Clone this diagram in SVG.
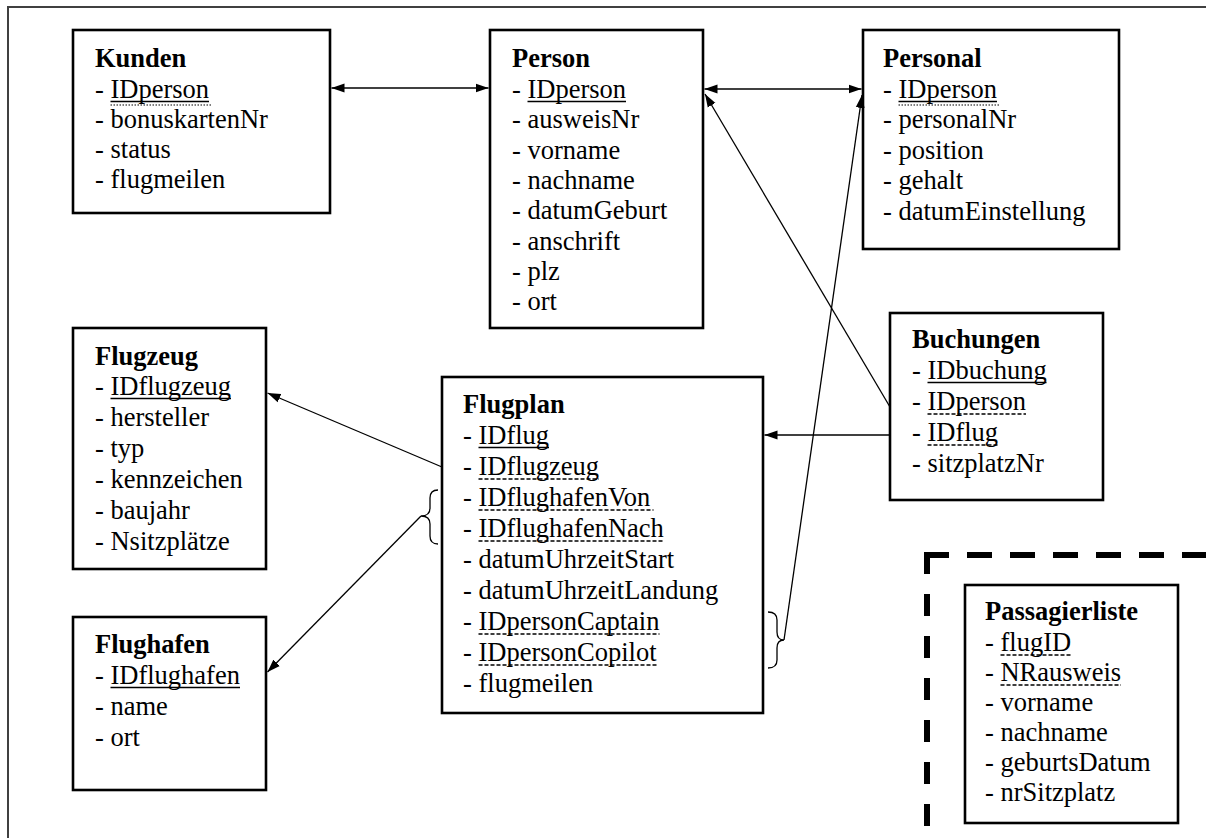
<svg xmlns="http://www.w3.org/2000/svg" width="1206" height="838" viewBox="0 0 1206 838">
<style>
.box{fill:#fff;stroke:#000;stroke-width:2.6}
text{font-family:"Liberation Serif","Times New Roman",serif;font-size:26.5px;fill:#000}
.t{font-weight:bold}
.u{stroke:#000;stroke-width:1.4}
.dot{stroke:#000;stroke-width:1.2;stroke-dasharray:1.5 1.5}
.dash{stroke:#000;stroke-width:1.4;stroke-dasharray:4 2}
.c{stroke:#000;stroke-width:1.3;fill:none}
</style>
<defs>
<marker id="ah" markerUnits="userSpaceOnUse" markerWidth="14" markerHeight="10" refX="13" refY="5" orient="auto-start-reverse">
<path d="M0,0.5 L13,5 L0,9.5 z" fill="#000"/>
</marker>
</defs>
<rect width="1206" height="838" fill="#fff"/>
<path d="M8,838 L8,7 L1206,7" fill="none" stroke="#404040" stroke-width="2"/>
<g id="passagier-frame">
<path d="M924,555 L1206,555" stroke="#000" stroke-width="6" stroke-dasharray="25 18" fill="none"/>
<path d="M927,552 L927,838" stroke="#000" stroke-width="6" stroke-dasharray="22 20" fill="none"/>
</g>
<g id="kunden">
<rect class="box" x="73" y="30" width="257" height="183"/>
<text x="95" y="67" class="t">Kunden</text>
<text x="95" y="98">- IDperson</text>
<line class="u" x1="110.5" y1="101.5" x2="209" y2="101.5"/>
<line class="dot" x1="110.5" y1="105" x2="211" y2="105"/>
<text x="95" y="128">- bonuskartenNr</text>
<text x="95" y="158">- status</text>
<text x="95" y="188">- flugmeilen</text>
</g>
<g id="person">
<rect class="box" x="490" y="30" width="213" height="298"/>
<text x="512" y="67" class="t">Person</text>
<text x="512" y="98">- IDperson</text>
<line class="u" x1="527.5" y1="101.5" x2="626" y2="101.5"/>
<text x="512" y="128">- ausweisNr</text>
<text x="512" y="159">- vorname</text>
<text x="512" y="189">- nachname</text>
<text x="512" y="219">- datumGeburt</text>
<text x="512" y="250">- anschrift</text>
<text x="512" y="280">- plz</text>
<text x="512" y="310">- ort</text>
</g>
<g id="personal">
<rect class="box" x="863" y="30" width="256" height="219"/>
<text x="883" y="67" class="t">Personal</text>
<text x="883" y="98">- IDperson</text>
<line class="u" x1="898.5" y1="101.5" x2="997" y2="101.5"/>
<line class="dot" x1="898.5" y1="105" x2="999" y2="105"/>
<text x="883" y="128">- personalNr</text>
<text x="883" y="159">- position</text>
<text x="883" y="189">- gehalt</text>
<text x="883" y="220">- datumEinstellung</text>
</g>
<g id="flugzeug">
<rect class="box" x="73" y="328" width="193" height="241"/>
<text x="95" y="365" class="t">Flugzeug</text>
<text x="95" y="395">- IDflugzeug</text>
<line class="u" x1="110.5" y1="398.5" x2="231" y2="398.5"/>
<text x="95" y="426">- hersteller</text>
<text x="95" y="457">- typ</text>
<text x="95" y="488">- kennzeichen</text>
<text x="95" y="519">- baujahr</text>
<text x="95" y="550">- Nsitzplätze</text>
</g>
<g id="flughafen">
<rect class="box" x="73" y="617" width="193" height="173"/>
<text x="95" y="653" class="t">Flughafen</text>
<text x="95" y="684">- IDflughafen</text>
<line class="u" x1="110.5" y1="687.5" x2="240" y2="687.5"/>
<text x="95" y="715">- name</text>
<text x="95" y="746">- ort</text>
</g>
<g id="flugplan">
<rect class="box" x="442" y="377" width="321" height="336"/>
<text x="463" y="413" class="t">Flugplan</text>
<text x="463" y="444">- IDflug</text>
<line class="u" x1="478.5" y1="447.5" x2="549" y2="447.5"/>
<text x="463" y="475">- IDflugzeug</text>
<line class="dash" x1="478.5" y1="479" x2="599" y2="479"/>
<text x="463" y="506">- IDflughafenVon</text>
<line class="dash" x1="478.5" y1="510" x2="653.5" y2="510"/>
<text x="463" y="537">- IDflughafenNach</text>
<line class="dash" x1="478.5" y1="541" x2="664" y2="541"/>
<text x="463" y="568">- datumUhrzeitStart</text>
<text x="463" y="599">- datumUhrzeitLandung</text>
<text x="463" y="630">- IDpersonCaptain</text>
<line class="dash" x1="478.5" y1="634" x2="659.5" y2="634"/>
<text x="463" y="661">- IDpersonCopilot</text>
<line class="dash" x1="478.5" y1="665" x2="656.5" y2="665"/>
<text x="463" y="692">- flugmeilen</text>
</g>
<g id="buchungen">
<rect class="box" x="890" y="313" width="213" height="187"/>
<text x="912" y="348" class="t">Buchungen</text>
<text x="912" y="379">- IDbuchung</text>
<line class="u" x1="927.5" y1="382.5" x2="1046.5" y2="382.5"/>
<text x="912" y="410">- IDperson</text>
<line class="dash" x1="927.5" y1="414" x2="1026" y2="414"/>
<text x="912" y="441">- IDflug</text>
<line class="dash" x1="927.5" y1="445" x2="998" y2="445"/>
<text x="912" y="472">- sitzplatzNr</text>
</g>
<g id="passagierliste">
<rect class="box" x="965" y="585" width="213" height="238"/>
<text x="985" y="620" class="t">Passagierliste</text>
<text x="985" y="651">- flugID</text>
<line class="dash" x1="1000.5" y1="655" x2="1071" y2="655"/>
<text x="985" y="681">- NRausweis</text>
<line class="dash" x1="1000.5" y1="685" x2="1121" y2="685"/>
<text x="985" y="711">- vorname</text>
<text x="985" y="741">- nachname</text>
<text x="985" y="771">- geburtsDatum</text>
<text x="985" y="801">- nrSitzplatz</text>
</g>
<g id="connectors">
<line class="c" x1="331.5" y1="88" x2="488.5" y2="88" marker-start="url(#ah)" marker-end="url(#ah)"/>
<line class="c" x1="704.5" y1="89" x2="861.5" y2="89" marker-start="url(#ah)" marker-end="url(#ah)"/>
<line class="c" x1="890" y1="407" x2="705" y2="94" marker-end="url(#ah)"/>
<line class="c" x1="784" y1="640" x2="862" y2="95" marker-end="url(#ah)"/>
<line class="c" x1="890" y1="435" x2="764.5" y2="435" marker-end="url(#ah)"/>
<line class="c" x1="442" y1="467" x2="267.5" y2="393" marker-end="url(#ah)"/>
<line class="c" x1="421" y1="516" x2="267.5" y2="672" marker-end="url(#ah)"/>
<path class="c" d="M438,490 Q430,490 430,498 L430,508 Q430,516 421,516 Q430,516 430,524 L430,536 Q430,544 438,544"/>
<path class="c" d="M768,612 Q777,612 777,620 L777,632 Q777,640 784,640 Q777,640 777,648 L777,660 Q777,668 768,668"/>
</g>
</svg>
